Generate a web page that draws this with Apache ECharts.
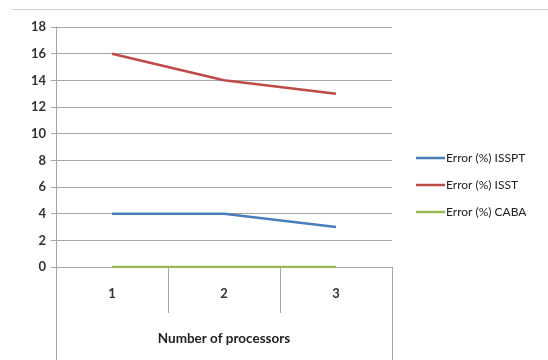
<!DOCTYPE html>
<html>
<head>
<meta charset="utf-8">
<script src="https://cdn.jsdelivr.net/npm/echarts@6/dist/echarts.min.js"></script>
<style>
  html, body { margin: 0; padding: 0; background: #fff; }
  #chart { width: 548px; height: 360px; }
</style>
</head>
<body>
<div id="chart"></div>
<script>
// Error percentage by number of processors
const processors = ['1', '2', '3'];
const errIsspt = [4, 4, 3];
const errIsst = [16, 14, 13];
const errCaba = [0, 0, 0];
const yTicks = [0, 2, 4, 6, 8, 10, 12, 14, 16, 18];

const seriesNames = ['Error (%) ISSPT', 'Error (%) ISST', 'Error (%) CABA'];
const seriesData = [errIsspt, errIsst, errCaba];
const seriesColors = ['#4a7ebb', '#be4b48', '#98b954'];

const gridLeft = 56, gridRight = 156, gridTop = 27, gridBottom = 93;
const W = 548, H = 360;
const axisFont = 'Lato, "Open Sans", sans-serif';
const lineGrey = '#a6a6a6';

const chart = echarts.init(document.getElementById('chart'));
chart.setOption({
  animation: false,
  backgroundColor: '#fff',
  grid: { left: gridLeft, right: gridRight, top: gridTop, bottom: gridBottom },
  legend: {
    orient: 'vertical',
    left: 411,
    top: 147,
    itemGap: 15,
    itemWidth: 29,
    itemHeight: 16,
    icon: 'path://M0,7 L29,7 L29,9.5 L0,9.5 Z',
    textStyle: { fontFamily: axisFont, fontSize: 12, color: '#222', padding: [0, 0, 0, -4] },
    data: seriesNames
  },
  xAxis: {
    type: 'category',
    data: processors,
    boundaryGap: true,
    name: 'Number of processors',
    nameLocation: 'middle',
    nameGap: 72,
    nameTextStyle: { fontFamily: axisFont, fontSize: 13.5, fontWeight: 'bold', color: '#222', verticalAlign: 'middle' },
    axisLine: { lineStyle: { color: lineGrey, width: 1 } },
    axisTick: { show: true, interval: 0, length: 46, lineStyle: { color: lineGrey } },
    axisLabel: { margin: 20, fontFamily: axisFont, fontSize: 13, fontWeight: 'bold', color: '#333' },
    splitLine: { show: false }
  },
  yAxis: {
    type: 'value',
    min: yTicks[0],
    max: yTicks[yTicks.length - 1],
    interval: 2,
    axisLine: { show: true, lineStyle: { color: lineGrey, width: 1 } },
    axisTick: { show: true, length: 5, lineStyle: { color: lineGrey } },
    axisLabel: { margin: 10, fontFamily: axisFont, fontSize: 13, fontWeight: 'bold', color: '#333' },
    splitLine: { show: true, lineStyle: { color: lineGrey, width: 1 } }
  },
  series: seriesNames.map((name, i) => ({
    name: name,
    type: 'line',
    data: seriesData[i],
    symbol: 'none',
    color: seriesColors[i],
    lineStyle: { width: 2.5, color: seriesColors[i] },
    z: 3 - i
  })),
  graphic: [
    // outer frame of the chart area
    { type: 'line', shape: { x1: 12, y1: 9.5, x2: W, y2: 9.5 }, style: { stroke: '#d0d0d0', lineWidth: 1 }, silent: true },
    // category table borders below the axis
    { type: 'line', shape: { x1: gridLeft + 0.5, y1: H - gridBottom, x2: gridLeft + 0.5, y2: H }, style: { stroke: lineGrey, lineWidth: 1 }, silent: true },
    { type: 'line', shape: { x1: W - gridRight + 0.5, y1: H - gridBottom, x2: W - gridRight + 0.5, y2: H }, style: { stroke: lineGrey, lineWidth: 1 }, silent: true }
  ]
});
</script>
</body>
</html>
